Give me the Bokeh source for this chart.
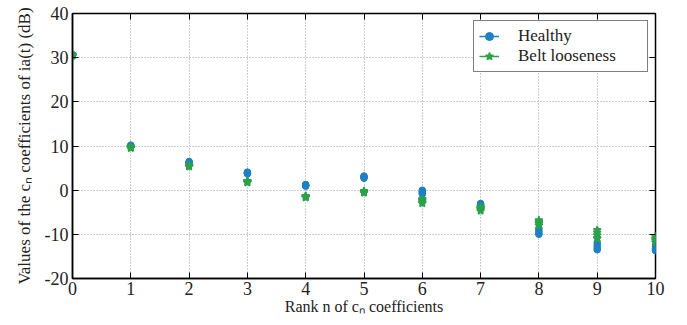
from bokeh.plotting import figure
from bokeh.models import FixedTicker, LinearAxis, Range1d
from bokeh.embed import file_html
from bokeh.resources import INLINE

ranks = [0, 1, 2, 3, 4, 5, 6, 7, 8, 9, 10]
healthy = [
    [30.6, 30.5, 30.7, 30.4, 30.6],
    [10.1, 9.9, 10.2, 10.0, 9.8],
    [6.4, 6.2, 6.0, 6.5, 6.1],
    [4.0, 3.8, 4.1, 3.9, 3.7],
    [1.2, 1.0, 0.9, 1.3, 1.1],
    [3.2, 2.9, 3.0, 2.7, 3.1],
    [0.0, -0.5, -0.9, -0.3, -0.7],
    [-3.0, -3.3, -3.6, -3.2, -3.8],
    [-8.6, -9.0, -9.4, -9.8, -10.0],
    [-11.8, -12.3, -12.8, -13.2, -13.5],
    [-12.4, -12.8, -13.2, -13.5, -13.7],
]
belt = [
    [30.7, 30.6, 30.5, 30.6, 30.4],
    [9.8, 9.6, 9.7, 9.5, 9.9],
    [5.6, 5.4, 5.7, 5.3, 5.5],
    [2.1, 1.8, 2.0, 1.7, 1.9],
    [-1.4, -1.6, -1.5, -1.7, -1.3],
    [-0.2, -0.5, -0.3, -0.6, -0.4],
    [-2.0, -2.4, -2.8, -3.0, -2.2],
    [-3.8, -4.1, -4.4, -4.7, -4.0],
    [-6.8, -7.2, -7.6, -8.0, -7.4],
    [-9.0, -9.6, -10.2, -10.8, -11.0],
    [-10.4, -10.9, -11.3, -11.8, -11.1],
]
x_ticks = [0, 1, 2, 3, 4, 5, 6, 7, 8, 9, 10]
y_ticks = [-20, -10, 0, 10, 20, 30, 40]
y_tick_labels = ["-20", "-10", "0", "10", "20", "30", "40"]

BLUE = "#1f80c4"
GREEN = "#2ca04a"
FONT = "'Liberation Serif', serif"


def flatten(vals):
    xs, ys = [], []
    for r, row in zip(ranks, vals):
        for v in row:
            xs.append(r)
            ys.append(v)
    return xs, ys


hx, hy = flatten(healthy)
bx, by = flatten(belt)

p = figure(width=671, height=317, output_backend="svg", toolbar_location=None,
           x_range=Range1d(0, 10), y_range=Range1d(-20, 40),
           min_border_left=72, min_border_right=16, min_border_top=13, min_border_bottom=38)
p.background_fill_color = "white"
p.border_fill_color = "white"
p.outline_line_color = "black"
p.outline_line_width = 1.5

# legend proxies (line + marker) with no data
p.line(x=[float("nan")], y=[float("nan")], line_color=BLUE, line_width=1.5, legend_label="Healthy")
p.scatter(x=hx, y=hy, marker="circle", size=6.5, fill_color=BLUE, line_color=BLUE, legend_label="Healthy")
p.line(x=[float("nan")], y=[float("nan")], line_color=GREEN, line_width=1.5, legend_label="Belt looseness")
p.scatter(x=bx, y=by, marker="star", size=8, fill_color=GREEN, line_color=GREEN, line_width=1.5,
          legend_label="Belt looseness")

for ax in (p.xaxis[0], p.yaxis[0]):
    ax.major_tick_in = 6
    ax.major_tick_out = 0
    ax.minor_tick_in = 0
    ax.minor_tick_out = 0
    ax.axis_line_color = "black"
    ax.axis_line_width = 1.5
    ax.major_tick_line_color = "black"
    ax.major_label_text_font = FONT
    ax.major_label_text_font_size = "18px"
    ax.major_label_text_color = "#222222"
    ax.axis_label_text_font = FONT
    ax.axis_label_text_font_style = "normal"
    ax.axis_label_text_color = "#222222"

p.xaxis[0].ticker = FixedTicker(ticks=x_ticks)
p.yaxis[0].ticker = FixedTicker(ticks=y_ticks)
p.yaxis[0].major_label_overrides = {t: s for t, s in zip(y_ticks, y_tick_labels)}
p.xaxis[0].axis_label = "Rank n of cₙ coefficients"
p.yaxis[0].axis_label = "Values of the cₙ coefficients of ia(t) (dB)"
p.xaxis[0].axis_label_text_font_size = "16px"
p.yaxis[0].axis_label_text_font_size = "17px"
p.xaxis[0].major_label_standoff = 3
p.yaxis[0].major_label_standoff = 4
p.xaxis[0].axis_label_standoff = 0
p.yaxis[0].axis_label_standoff = 8

top = LinearAxis(ticker=FixedTicker(ticks=x_ticks), major_label_text_font_size="0px",
                 major_tick_in=6, major_tick_out=0, minor_tick_in=0, minor_tick_out=0,
                 axis_line_color=None, major_label_standoff=0)
right = LinearAxis(ticker=FixedTicker(ticks=y_ticks), major_label_text_font_size="0px",
                   major_tick_in=6, major_tick_out=0, minor_tick_in=0, minor_tick_out=0,
                   axis_line_color=None, major_label_standoff=0)
top.major_label_overrides = {t: "" for t in x_ticks}
right.major_label_overrides = {t: "" for t in y_ticks}
p.add_layout(top, "above")
p.add_layout(right, "right")

for g in (p.xgrid[0], p.ygrid[0]):
    g.grid_line_color = "#999999"
    g.grid_line_dash = "1 2"
    g.grid_line_width = 1
p.xgrid[0].ticker = FixedTicker(ticks=x_ticks)
p.ygrid[0].ticker = FixedTicker(ticks=y_ticks)

lg = p.legend[0]
lg.location = "top_right"
lg.margin = 7
lg.border_line_color = "black"
lg.border_line_width = 1.2
lg.background_fill_alpha = 1
lg.label_text_font = FONT
lg.label_text_font_size = "17px"
lg.label_text_color = "#222222"
lg.glyph_width = 20
lg.spacing = 0
lg.padding = 5
lg.label_standoff = 19
lg.label_width = 124
lg.label_height = 20
lg.glyph_height = 20

open("out.html", "w").write(file_html(p, INLINE))
